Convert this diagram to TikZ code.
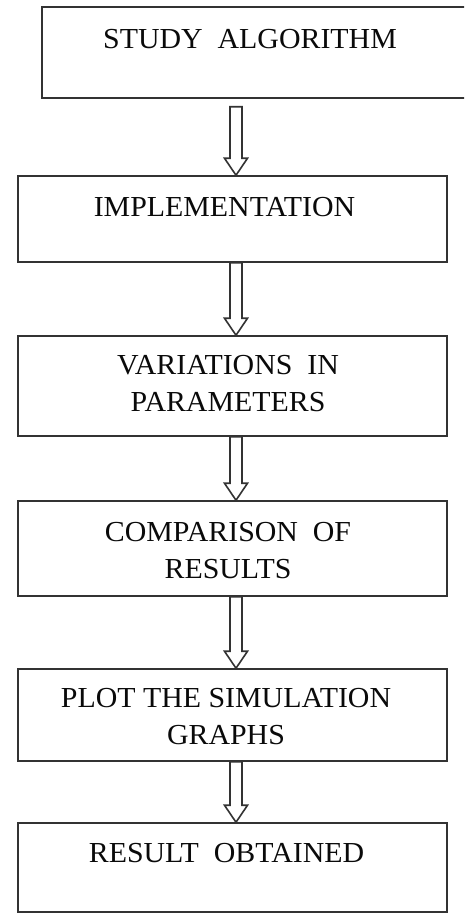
\documentclass[tikz,border=0pt]{standalone}
\usepackage{fontspec}
\setmainfont{Liberation Serif}[FakeStretch=1.03]
\usepackage{tikz}
\usepackage{xcolor}
\usetikzlibrary{calc,positioning}
\definecolor{cEdge}{HTML}{333333}
\definecolor{cText}{HTML}{0A0A0A}
\tikzset{
  stage/.style ={draw=cEdge,line width=1.5pt,fill=white,inner sep=0pt,minimum width=429pt},
  stagetxt/.style={anchor=north,inner sep=0pt,align=center,text=cText,
                   font=\fontsize{29}{37}\selectfont},
  hollow/.style={draw=cEdge,line width=1.6pt,fill=white,line join=miter},
}
% block arrow: from node, to node, gap below the upper box
\newcommand{\flowarrow}[3]{%
  \draw[hollow] let \p1=(#1.south -| ax), \p2=(#2.north -| ax) in
    (\x1-6pt,\y1-#3) -- (\x1+6pt,\y1-#3) -- (\x1+6pt,\y2+17pt) -- (\x1+11.5pt,\y2+17pt)
    -- (\x1,\y2) -- (\x1-11.5pt,\y2+17pt) -- (\x1-6pt,\y2+17pt) -- cycle;}

\begin{document}
\begin{tikzpicture}[x=1pt,y=-1pt]
\useasboundingbox (0,0) rectangle (464,913);
\coordinate (ax) at (236,0);
% boxes
\begin{scope}
\clip (0,0) rectangle (464,913);
\node[stage,minimum width=450pt,minimum height=91pt] (s1) at (267,52.5) {};
\end{scope}
\node[stage,minimum height=86pt]  (s2) at (232.5,219)   {};
\node[stage,minimum height=100pt] (s3) at (232.5,386)   {};
\node[stage,minimum height=95pt]  (s4) at (232.5,548.5) {};
\node[stage,minimum height=92pt]  (s5) at (232.5,715)   {};
\node[stage,minimum height=89pt]  (s6) at (232.5,867.5) {};
% texts
\node[stagetxt] (t1) at (250,29)   {STUDY\ \ ALGORITHM};
\node[stagetxt] (t2) at (224.5,197) {IMPLEMENTATION};
\node[stagetxt] (t3) at (228,355)  {VARIATIONS\ \ IN\\PARAMETERS};
\node[stagetxt] (t4) at (228,522)  {COMPARISON\ \ OF\\RESULTS};
\node[stagetxt] (t5) at (226,688)  {PLOT THE SIMULATION\\GRAPHS};
\node[stagetxt] (t6) at (226.5,843) {RESULT\ \ OBTAINED};
% arrows
\flowarrow{s1}{s2}{8pt}
\flowarrow{s2}{s3}{0pt}
\flowarrow{s3}{s4}{0pt}
\flowarrow{s4}{s5}{0pt}
\flowarrow{s5}{s6}{0pt}
\end{tikzpicture}
\end{document}
